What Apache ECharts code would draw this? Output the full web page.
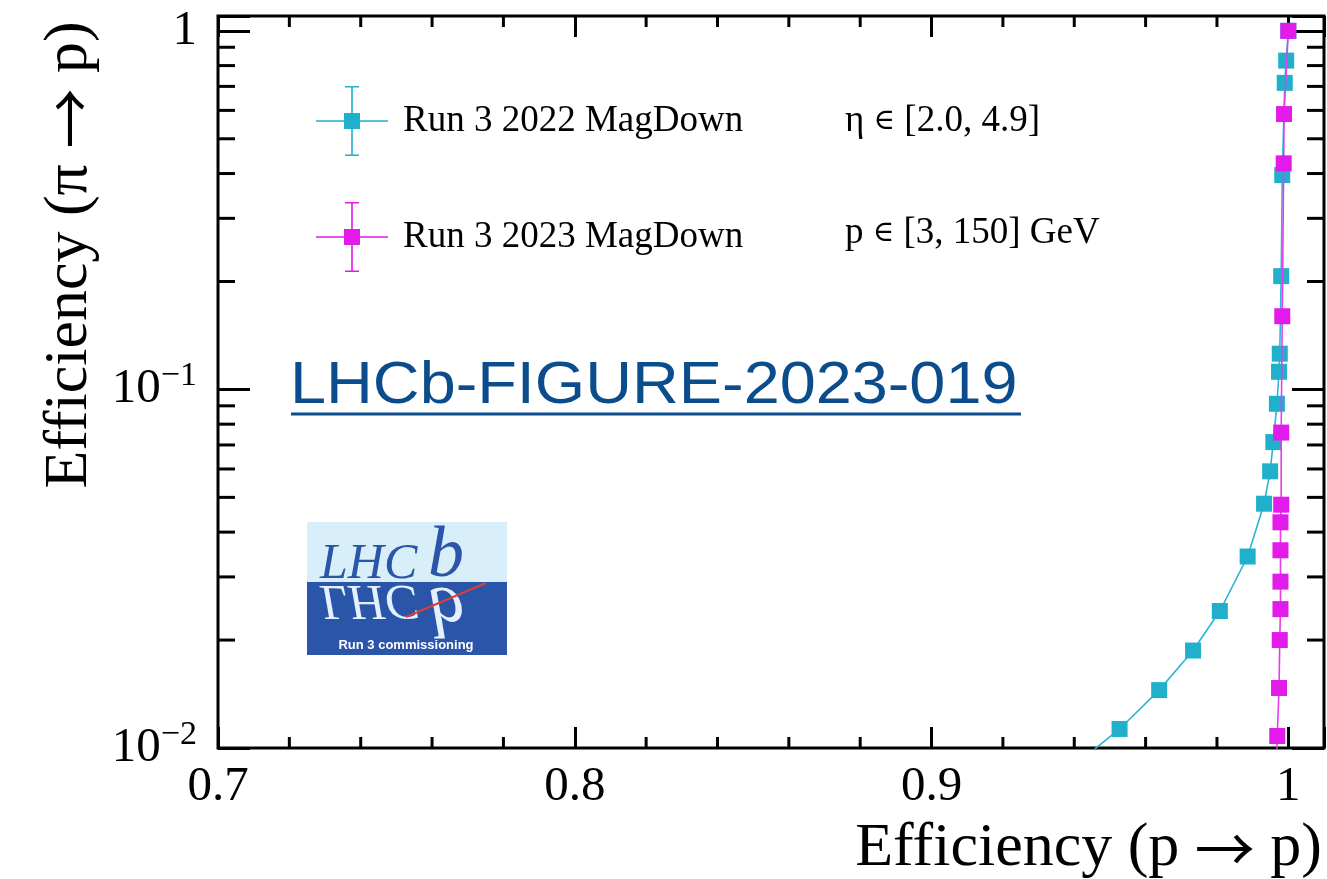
<!DOCTYPE html>
<html>
<head>
<meta charset="utf-8">
<script src="https://cdn.jsdelivr.net/npm/echarts@6/dist/echarts.min.js"></script>
<style>
  html, body { margin: 0; padding: 0; background: #fff; }
  #chart { width: 1327px; height: 879px; }
</style>
</head>
<body>
<div id="chart"></div>
<script>
// ---------------- data ----------------
const seriesNames = ['Run 3 2022 MagDown', 'Run 3 2023 MagDown'];
const run2022X = [1.0, 0.9994, 0.9990, 0.9983, 0.9980, 0.9976, 0.9974, 0.9968, 0.9958, 0.9949, 0.9932, 0.9886, 0.9808, 0.9733, 0.9638, 0.9527, 0.9392];
const run2022Y = [1.0, 0.826, 0.716, 0.396, 0.207, 0.1258, 0.112, 0.0912, 0.0713, 0.0591, 0.048, 0.0342, 0.0241, 0.0187, 0.0145, 0.0113, 0.0088];
const run2023X = [1.0, 0.9988, 0.9987, 0.9983, 0.9980, 0.9980, 0.9978, 0.9978, 0.9978, 0.9978, 0.9976, 0.9974, 0.9969, 0.9966];
const run2023Y = [1.0, 0.586, 0.427, 0.160, 0.0758, 0.0477, 0.0426, 0.0356, 0.0291, 0.0244, 0.0200, 0.0147, 0.0108, 0.0085];
const xTickLabels = ['0.7', '0.8', '0.9', '1'];
const xMinorTicks = [0.72, 0.74, 0.76, 0.78, 0.82, 0.84, 0.86, 0.88, 0.92, 0.94, 0.96, 0.98];
const yMinorTicks = [0.02, 0.03, 0.04, 0.05, 0.06, 0.07, 0.08, 0.09, 0.2, 0.3, 0.4, 0.5, 0.6, 0.7, 0.8, 0.9];
const xTitleParts = ['Efficiency (p ', '\u2192', ' p)'];
const yTitleParts = ['Efficiency (\u03C0 ', '\u2192', ' p)'];
const infoLine1 = ['\u03B7 ', '\u2208', ' [2.0, 4.9]'];
const infoLine2 = ['p ', '\u2208', ' [3, 150] GeV'];
const figureLabel = 'LHCb-FIGURE-2023-019';

// ---------------- config ----------------
const X_MIN = 0.7, X_MAX = 1.01, Y_MIN = 0.01, Y_MAX = 1.1;
const SERIF = 'Liberation Serif, Times New Roman, serif';
const SANS = 'Liberation Sans, Arial, sans-serif';
const C_CYAN = '#20b0cc';
const C_MAG = '#e21aea';

function zip(xs, ys) { return xs.map((x, i) => [x, ys[i]]); }

// legend icon: error cross with caps and square marker (72 x 70 box)
const legendIcon = 'path://M0 34.2H72V35.8H0Z M35.2 0H36.8V70H35.2Z M29 0H43V1.6H29Z M29 68.4H43V70H29Z M28 27H44V43H28Z';

const chart = echarts.init(document.getElementById('chart'), null, { renderer: 'canvas' });

const xAxisCommon = {
  type: 'value', min: X_MIN, max: X_MAX, interval: 0.1,
  axisLine: { show: false },
  splitLine: { show: false },
  axisTick: { show: true, inside: true, length: 21, lineStyle: { color: '#000', width: 3 } }
};
const yAxisCommon = {
  type: 'log', logBase: 10, min: Y_MIN, max: Y_MAX,
  axisLine: { show: false },
  splitLine: { show: false },
  axisTick: { show: true, inside: true, length: 32, lineStyle: { color: '#000', width: 3 } }
};

function isPow10(v) {
  const l = Math.log10(v);
  return Math.abs(l - Math.round(l)) < 1e-6;
}

const titleRich = {
  t: { fontFamily: SERIF, fontSize: 62, color: '#000' },
  r: { fontFamily: 'Noto Sans CJK SC', fontSize: 60, color: '#000' }
};
const infoRich = {
  t: { fontFamily: SERIF, fontSize: 37, color: '#000' },
  e: { fontFamily: 'DejaVu Serif', fontSize: 29, color: '#000' }
};
function richJoin(parts, a, b) {
  return '{' + a + '|' + parts[0] + '}{' + b + '|' + parts[1] + '}{' + a + '|' + parts[2] + '}';
}

const option = {
  backgroundColor: '#fff',
  animation: false,
  grid: {
    left: 218, top: 16, right: 2, bottom: 131,
    show: true, borderColor: '#000', borderWidth: 3, backgroundColor: 'transparent'
  },
  legend: {
    orient: 'vertical', left: 311, top: 81,
    itemWidth: 72, itemHeight: 70, itemGap: 46,
    data: [
      { name: seriesNames[0], icon: legendIcon },
      { name: seriesNames[1], icon: legendIcon }
    ],
    textStyle: { fontFamily: SERIF, fontSize: 37, color: '#000', padding: [0, 0, 0, 10] }
  },
  xAxis: [
    Object.assign({}, xAxisCommon, {
      position: 'bottom',
      axisLabel: {
        show: true, margin: 15, fontFamily: SERIF, fontSize: 49, color: '#000',
        formatter: function (v) {
          if (v > 1.005) return '';
          const idx = Math.round((v - X_MIN) / 0.1);
          return xTickLabels[idx] !== undefined ? xTickLabels[idx] : '';
        }
      }
    }),
    Object.assign({}, xAxisCommon, { position: 'top', axisLabel: { show: false } })
  ],
  yAxis: [
    Object.assign({}, yAxisCommon, {
      position: 'left',
      axisLabel: {
        show: true, margin: 21, align: 'right',
        formatter: function (v) {
          if (!isPow10(v)) return '';
          const e = Math.round(Math.log10(v));
          if (e === 0) return '{b|1}';
          return '{b|10}{s|\u2212' + (-e) + '}';
        },
        rich: {
          b: { fontFamily: SERIF, fontSize: 49, color: '#000', lineHeight: 60 },
          s: { fontFamily: SERIF, fontSize: 34, color: '#000', verticalAlign: 'top', lineHeight: 36 }
        }
      }
    }),
    Object.assign({}, yAxisCommon, { position: 'right', axisLabel: { show: false } })
  ],
  series: [
    {
      name: seriesNames[0], type: 'line', xAxisIndex: 0, yAxisIndex: 0,
      data: zip(run2022X, run2022Y),
      symbol: 'rect', symbolSize: 16, clip: true,
      itemStyle: { color: C_CYAN },
      lineStyle: { color: '#2bb6d3', width: 1.6 },
      z: 3
    },
    {
      name: seriesNames[1], type: 'line', xAxisIndex: 0, yAxisIndex: 0,
      data: zip(run2023X, run2023Y),
      symbol: 'rect', symbolSize: 16, clip: true,
      itemStyle: { color: C_MAG },
      lineStyle: { color: '#e63cec', width: 1.6 },
      z: 4
    },
    {
      // minor ticks of the log y axes (left and right)
      type: 'custom', xAxisIndex: 0, yAxisIndex: 0, silent: true, clip: false, z: 5,
      data: yMinorTicks.map(v => [X_MIN, v]),
      renderItem: function (params, api) {
        const yv = api.value(1);
        const pL = api.coord([X_MIN, yv]);
        const pR = api.coord([X_MAX, yv]);
        return {
          type: 'group', children: [
            { type: 'line', shape: { x1: pL[0], y1: pL[1], x2: pL[0] + 17, y2: pL[1] }, style: { stroke: '#000', lineWidth: 3 } },
            { type: 'line', shape: { x1: pR[0] - 17, y1: pR[1], x2: pR[0], y2: pR[1] }, style: { stroke: '#000', lineWidth: 3 } }
          ]
        };
      }
    },
    {
      // minor ticks of the x axes (bottom and top)
      type: 'custom', xAxisIndex: 0, yAxisIndex: 0, silent: true, clip: false, z: 5,
      data: xMinorTicks.map(v => [v, Y_MIN]),
      renderItem: function (params, api) {
        const xv = api.value(0);
        const pB = api.coord([xv, Y_MIN]);
        const pT = api.coord([xv, Y_MAX]);
        return {
          type: 'group', children: [
            { type: 'line', shape: { x1: pB[0], y1: pB[1], x2: pB[0], y2: pB[1] - 11 }, style: { stroke: '#000', lineWidth: 3 } },
            { type: 'line', shape: { x1: pT[0], y1: pT[1], x2: pT[0], y2: pT[1] + 11 }, style: { stroke: '#000', lineWidth: 3 } }
          ]
        };
      }
    }
  ],
  graphic: {
    elements: [
      // axis titles
      { type: 'text', x: 1322, y: 849, silent: true,
        style: { text: richJoin(xTitleParts, 't', 'r'), rich: titleRich, align: 'right', verticalAlign: 'middle' } },
      { type: 'text', x: 70, y: 255, rotation: Math.PI / 2, silent: true,
        style: { text: richJoin(yTitleParts, 't', 'r'), rich: titleRich, align: 'center', verticalAlign: 'middle' } },
      // selection info
      { type: 'text', x: 845, y: 121, silent: true,
        style: { text: richJoin(infoLine1, 't', 'e'), rich: infoRich, align: 'left', verticalAlign: 'middle' } },
      { type: 'text', x: 845, y: 233, silent: true,
        style: { text: richJoin(infoLine2, 't', 'e'), rich: infoRich, align: 'left', verticalAlign: 'middle' } },
      // figure reference label (underlined)
      { type: 'text', x: 290, y: 386, scaleX: 1.08, silent: true,
        style: { text: figureLabel, font: '60px ' + SANS, fill: '#0b4d8c', align: 'left', verticalAlign: 'middle' } },
      { type: 'line', silent: true, shape: { x1: 291, y1: 414, x2: 1021, y2: 414 }, style: { stroke: '#0b4d8c', lineWidth: 3 } },
      // LHCb logo
      { type: 'rect', silent: true, shape: { x: 307, y: 522, width: 200, height: 60 }, style: { fill: '#d8eef8' } },
      { type: 'rect', silent: true, shape: { x: 307, y: 582, width: 200, height: 73 }, style: { fill: '#2b55a8' } },
      { type: 'text', x: 320, y: 589.7, silent: true,
        style: { text: 'LHC', font: 'italic 50px ' + SERIF, fill: '#2b55a8', align: 'left', verticalAlign: 'bottom' } },
      { type: 'text', x: 428, y: 593.1, silent: true,
        style: { text: 'b', font: 'italic 72px ' + SERIF, fill: '#2b55a8', align: 'left', verticalAlign: 'bottom' } },
      { type: 'text', x: 320, y: 574.3, scaleY: -1, silent: true,
        style: { text: 'LHC', font: 'italic 50px ' + SERIF, fill: '#e4f1fc', align: 'left', verticalAlign: 'bottom' } },
      { type: 'text', x: 428, y: 570.9, scaleY: -1, silent: true,
        style: { text: 'b', font: 'italic 72px ' + SERIF, fill: '#e4f1fc', align: 'left', verticalAlign: 'bottom' } },
      { type: 'line', silent: true, shape: { x1: 406, y1: 617, x2: 486, y2: 583 }, style: { stroke: '#d8403a', lineWidth: 2 } },
      { type: 'text', x: 406, y: 645, silent: true,
        style: { text: 'Run 3 commissioning', font: 'bold 13px ' + SANS, fill: '#ffffff', align: 'center', verticalAlign: 'middle' } }
    ]
  }
};

chart.setOption(option);
</script>
</body>
</html>
